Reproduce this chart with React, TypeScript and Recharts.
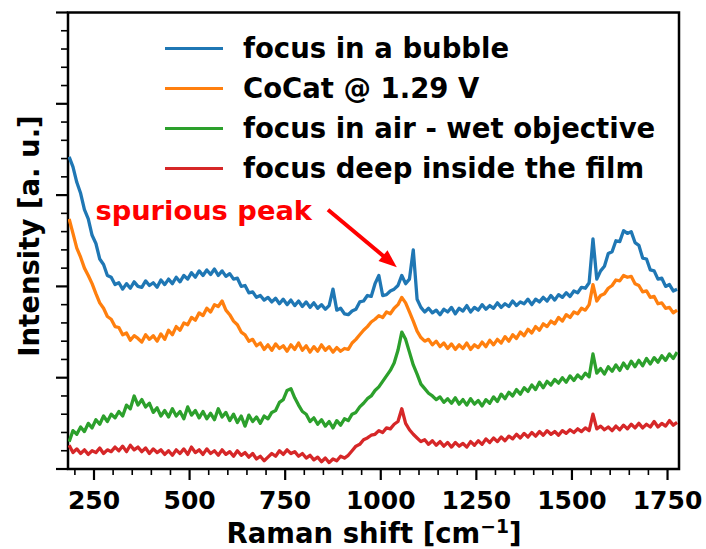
import React from 'react';
import { LineChart, Line, XAxis, YAxis, ReferenceArea, ReferenceLine, Legend } from 'recharts';

// Raman shift grid (cm^-1), shared by all four spectra
const shifts = [
  185, 195, 205, 215, 225, 235, 245, 255, 265, 275,
  285, 295, 305, 315, 325, 335, 345, 355, 365, 375,
  385, 395, 405, 415, 425, 435, 445, 455, 465, 475,
  485, 495, 505, 515, 525, 535, 545, 555, 565, 575,
  585, 595, 605, 615, 625, 635, 645, 655, 665, 675,
  685, 695, 705, 715, 725, 735, 745, 755, 765, 775,
  785, 795, 805, 815, 825, 835, 845, 855, 865, 875,
  885, 895, 905, 915, 925, 935, 945, 955, 965, 975,
  985, 995, 1005, 1015, 1025, 1035, 1045, 1055, 1065, 1075,
  1085, 1095, 1105, 1115, 1125, 1135, 1145, 1155, 1165, 1175,
  1185, 1195, 1205, 1215, 1225, 1235, 1245, 1255, 1265, 1275,
  1285, 1295, 1305, 1315, 1325, 1335, 1345, 1355, 1365, 1375,
  1385, 1395, 1405, 1415, 1425, 1435, 1445, 1455, 1465, 1475,
  1485, 1495, 1505, 1515, 1525, 1535, 1545, 1555, 1565, 1575,
  1585, 1595, 1605, 1615, 1625, 1635, 1645, 1655, 1665, 1675,
  1685, 1695, 1705, 1715, 1725, 1735, 1745, 1755, 1765, 1775,
];

const bubble = [
  3.42, 3.31, 3.14, 3.02, 2.84, 2.74, 2.56, 2.47, 2.30, 2.24,
  2.12, 2.10, 2.02, 2.04, 1.97, 2.03, 1.98, 2.05, 2.00, 1.99,
  2.06, 2.01, 2.04, 1.99, 2.07, 2.02, 2.08, 2.03, 2.10, 2.05,
  2.12, 2.08, 2.15, 2.10, 2.17, 2.12, 2.18, 2.13, 2.19, 2.12,
  2.17, 2.11, 2.14, 2.08, 2.09, 2.00, 2.01, 1.93, 1.94, 1.88,
  1.90, 1.85, 1.88, 1.83, 1.87, 1.81, 1.86, 1.80, 1.85, 1.79,
  1.84, 1.78, 1.83, 1.77, 1.82, 1.76, 1.80, 1.75, 1.79, 1.97,
  1.74, 1.76, 1.70, 1.69, 1.73, 1.75, 1.83, 1.84, 1.90, 1.89,
  2.03, 2.12, 1.90, 1.91, 1.95, 1.97, 2.01, 2.12, 2.03, 2.08,
  2.40, 1.86, 1.77, 1.72, 1.76, 1.71, 1.74, 1.69, 1.75, 1.72,
  1.77, 1.70, 1.76, 1.73, 1.79, 1.72, 1.77, 1.74, 1.80, 1.75,
  1.79, 1.76, 1.82, 1.77, 1.81, 1.78, 1.84, 1.79, 1.83, 1.81,
  1.86, 1.80, 1.86, 1.83, 1.88, 1.84, 1.90, 1.85, 1.91, 1.88,
  1.93, 1.89, 1.95, 1.93, 1.99, 1.98, 2.04, 2.52, 2.08, 2.17,
  2.22, 2.36, 2.38, 2.50, 2.49, 2.61, 2.58, 2.60, 2.48, 2.45,
  2.31, 2.30, 2.18, 2.17, 2.08, 2.09, 2.00, 2.02, 1.95, 1.97,
];

const cocat = [
  2.74, 2.58, 2.42, 2.32, 2.20, 2.12, 2.03, 1.92, 1.82, 1.76,
  1.67, 1.64, 1.56, 1.55, 1.47, 1.49, 1.41, 1.46, 1.43, 1.39,
  1.47, 1.42, 1.46, 1.40, 1.48, 1.42, 1.52, 1.47, 1.56, 1.52,
  1.60, 1.58, 1.66, 1.63, 1.71, 1.68, 1.76, 1.72, 1.80, 1.78,
  1.84, 1.74, 1.69, 1.62, 1.58, 1.50, 1.47, 1.40, 1.42, 1.35,
  1.38, 1.31, 1.36, 1.30, 1.37, 1.32, 1.35, 1.29, 1.36, 1.31,
  1.38, 1.30, 1.35, 1.28, 1.34, 1.29, 1.36, 1.30, 1.34, 1.28,
  1.33, 1.29, 1.32, 1.31, 1.38, 1.42, 1.47, 1.52, 1.56, 1.61,
  1.64, 1.68, 1.66, 1.72, 1.70, 1.76, 1.80, 1.88, 1.82, 1.72,
  1.62, 1.51, 1.44, 1.40, 1.42, 1.36, 1.40, 1.34, 1.38, 1.32,
  1.37, 1.31, 1.36, 1.32, 1.38, 1.31, 1.36, 1.33, 1.39, 1.34,
  1.41, 1.36, 1.42, 1.38, 1.45, 1.40, 1.47, 1.43, 1.50, 1.46,
  1.53, 1.49, 1.56, 1.52, 1.59, 1.56, 1.62, 1.59, 1.66, 1.62,
  1.69, 1.66, 1.72, 1.70, 1.76, 1.74, 1.80, 2.02, 1.84, 1.90,
  1.92, 1.98, 2.01, 2.07, 2.06, 2.12, 2.10, 2.11, 2.03, 2.01,
  1.94, 1.95, 1.88, 1.89, 1.81, 1.82, 1.76, 1.77, 1.71, 1.74,
];

const airWet = [
  0.30, 0.42, 0.38, 0.46, 0.41, 0.50, 0.45, 0.54, 0.49, 0.58,
  0.52, 0.60, 0.56, 0.63, 0.58, 0.70, 0.66, 0.80, 0.70, 0.76,
  0.68, 0.72, 0.62, 0.67, 0.58, 0.64, 0.57, 0.66, 0.58, 0.63,
  0.55, 0.68, 0.59, 0.64, 0.56, 0.63, 0.55, 0.61, 0.54, 0.66,
  0.57, 0.62, 0.53, 0.60, 0.51, 0.58, 0.47, 0.59, 0.52, 0.57,
  0.50, 0.58, 0.55, 0.62, 0.64, 0.73, 0.76, 0.86, 0.88, 0.78,
  0.70, 0.63, 0.60, 0.52, 0.56, 0.49, 0.54, 0.47, 0.52, 0.45,
  0.53, 0.48, 0.55, 0.53, 0.60, 0.62, 0.68, 0.72, 0.77, 0.80,
  0.86, 0.90, 0.96, 1.02, 1.08, 1.16, 1.30, 1.50, 1.42, 1.28,
  1.14, 1.04, 0.93, 0.88, 0.83, 0.80, 0.76, 0.79, 0.73, 0.77,
  0.72, 0.78, 0.71, 0.76, 0.70, 0.77, 0.71, 0.75, 0.69, 0.76,
  0.72, 0.79, 0.74, 0.82, 0.77, 0.84, 0.80, 0.87, 0.82, 0.89,
  0.85, 0.92, 0.87, 0.95, 0.89, 0.96, 0.92, 0.98, 0.94, 1.00,
  0.95, 1.02, 0.97, 1.03, 0.99, 1.05, 1.01, 1.26, 1.05, 1.10,
  1.04, 1.12, 1.07, 1.14, 1.08, 1.16, 1.10, 1.18, 1.12, 1.19,
  1.13, 1.21, 1.15, 1.22, 1.17, 1.24, 1.19, 1.26, 1.21, 1.28,
];

const deepFilm = [
  0.26, 0.18, 0.22, 0.17, 0.21, 0.16, 0.20, 0.18, 0.23, 0.17,
  0.21, 0.19, 0.24, 0.20, 0.25, 0.19, 0.26, 0.21, 0.24, 0.19,
  0.23, 0.17, 0.22, 0.18, 0.21, 0.16, 0.20, 0.15, 0.21, 0.17,
  0.22, 0.16, 0.24, 0.18, 0.21, 0.16, 0.22, 0.17, 0.20, 0.15,
  0.21, 0.16, 0.19, 0.14, 0.20, 0.15, 0.18, 0.13, 0.17, 0.11,
  0.14, 0.09, 0.13, 0.17, 0.14, 0.20, 0.16, 0.21, 0.17, 0.19,
  0.14, 0.17, 0.12, 0.15, 0.10, 0.13, 0.08, 0.12, 0.07, 0.11,
  0.09, 0.14, 0.12, 0.15, 0.20, 0.25, 0.27, 0.32, 0.34, 0.37,
  0.38, 0.42, 0.40, 0.45, 0.44, 0.49, 0.52, 0.66, 0.50, 0.43,
  0.38, 0.34, 0.30, 0.32, 0.27, 0.31, 0.26, 0.30, 0.25, 0.29,
  0.24, 0.29, 0.25, 0.28, 0.24, 0.30, 0.26, 0.31, 0.27, 0.33,
  0.29, 0.34, 0.30, 0.35, 0.31, 0.36, 0.33, 0.38, 0.34, 0.39,
  0.35, 0.40, 0.36, 0.41, 0.37, 0.42, 0.38, 0.41, 0.37, 0.42,
  0.39, 0.43, 0.40, 0.44, 0.41, 0.45, 0.42, 0.60, 0.44, 0.47,
  0.43, 0.46, 0.42, 0.47, 0.43, 0.48, 0.44, 0.49, 0.45, 0.50,
  0.45, 0.49, 0.46, 0.52, 0.46, 0.50, 0.47, 0.53, 0.48, 0.51,
];

const xMajorTicks = [250, 500, 750, 1000, 1250, 1500, 1750];
const xTicks = [
  200, 250, 300, 350, 400, 450, 500, 550, 600, 650, 700, 750, 800, 850, 900, 950,
  1000, 1050, 1100, 1150, 1200, 1250, 1300, 1350, 1400, 1450, 1500, 1550, 1600, 1650, 1700, 1750,
];
const yMajorTicks = [0, 1, 2, 3, 4, 5];
const yTicks = [
  0, 0.2, 0.4, 0.6, 0.8, 1, 1.2, 1.4, 1.6, 1.8, 2, 2.2, 2.4, 2.6, 2.8,
  3, 3.2, 3.4, 3.6, 3.8, 4, 4.2, 4.4, 4.6, 4.8, 5,
];

const series = [
  { key: 'bubble', name: 'focus in a bubble', color: '#1f77b4' },
  { key: 'cocat', name: 'CoCat @ 1.29 V', color: '#ff7f0e' },
  { key: 'airWet', name: 'focus in air - wet objective', color: '#2ca02c' },
  { key: 'deepFilm', name: 'focus deep inside the film', color: '#d62728' },
];

// where the arrow points from / to, in data units
const arrowFrom = { x: 862, y: 2.84 };
const arrowTo = { x: 1042, y: 2.21 };

const data = shifts.map((shift, i) => ({
  shift,
  bubble: bubble[i],
  cocat: cocat[i],
  airWet: airWet[i],
  deepFilm: deepFilm[i],
}));

const FONT = '"DejaVu Sans", Verdana, sans-serif';

function XTick(props: any) {
  const { x, y, payload } = props;
  const major = xMajorTicks.includes(payload.value);
  return (
    <g>
      <line x1={x} y1={y} x2={x} y2={y + (major ? 11 : 6)} stroke="#000" strokeWidth={major ? 2.2 : 1.6} />
      {major && (
        <text x={x} y={y + 40} textAnchor="middle" fontFamily={FONT} fontWeight="bold" fontSize={25} fill="#000">
          {payload.value}
        </text>
      )}
    </g>
  );
}

function YTick(props: any) {
  const { x, y, payload } = props;
  const major = yMajorTicks.includes(payload.value);
  return <line x1={x} y1={y} x2={x - (major ? 12 : 7)} y2={y} stroke="#000" strokeWidth={major ? 2.2 : 1.6} />;
}

function SpuriousArrow(props: any) {
  const { x1, y1, x2, y2 } = props;
  const dx = x2 - x1;
  const dy = y2 - y1;
  const len = Math.sqrt(dx * dx + dy * dy);
  const ux = dx / len;
  const uy = dy / len;
  const headLen = 18;
  const headHalf = 7;
  const bx = x2 - ux * headLen;
  const by = y2 - uy * headLen;
  const head = [
    `${x2},${y2}`,
    `${bx - uy * headHalf},${by + ux * headHalf}`,
    `${bx + uy * headHalf},${by - ux * headHalf}`,
  ].join(' ');
  return (
    <g>
      <line x1={x1} y1={y1} x2={bx + ux * 2} y2={by + uy * 2} stroke="#f00" strokeWidth={4} />
      <polygon points={head} fill="#f00" />
      <text x={x1 - 16} y={y1 + 10} textAnchor="end" fontFamily={FONT} fontWeight="bold" fontSize={27.3} fill="#f00">
        spurious peak
      </text>
    </g>
  );
}

function LegendBox() {
  return (
    <div style={{ fontFamily: FONT, fontWeight: 'bold', fontSize: 27.5 }}>
      {series.map((s) => (
        <div key={s.key} style={{ display: 'flex', alignItems: 'center', height: 40 }}>
          <div style={{ width: 58, height: 3, background: s.color, marginLeft: 5 }} />
          <span style={{ marginLeft: 20, lineHeight: '40px', whiteSpace: 'nowrap' }}>{s.name}</span>
        </div>
      ))}
    </div>
  );
}

export default function App() {
  return (
    <div style={{ position: 'absolute', left: 0, top: 0, width: 706, height: 549, background: '#fff' }}>
      <LineChart width={706} height={549} data={data} margin={{ top: 12.5, right: 27, bottom: 79, left: 67 }}>
        <XAxis
          type="number"
          dataKey="shift"
          domain={[182, 1780]}
          ticks={xTicks}
          interval={0}
          allowDataOverflow
          height={1}
          axisLine={false}
          tickLine={false}
          tickSize={0}
          tickMargin={0}
          tick={<XTick />}
        />
        <YAxis
          type="number"
          domain={[0, 5]}
          ticks={yTicks}
          interval={0}
          allowDataOverflow
          width={1}
          axisLine={false}
          tickLine={false}
          tickSize={0}
          tickMargin={0}
          tick={<YTick />}
        />
        {series.map((s) => (
          <Line
            key={s.key}
            type="linear"
            dataKey={s.key}
            name={s.name}
            stroke={s.color}
            strokeWidth={3.3}
            strokeLinejoin="round"
            dot={false}
            activeDot={false}
            isAnimationActive={false}
          />
        ))}
        <ReferenceArea x1={182} x2={1780} y1={0} y2={5} fill="none" stroke="#000" strokeWidth={2.5} ifOverflow="visible" />
        <ReferenceLine segment={[arrowFrom, arrowTo]} ifOverflow="visible" shape={SpuriousArrow} />
        <Legend
          layout="vertical"
          align="center"
          verticalAlign="middle"
          wrapperStyle={{ left: 160, top: 28, width: 540 }}
          content={() => <LegendBox />}
        />
      </LineChart>
      <div
        style={{
          position: 'absolute',
          left: 30,
          top: 236,
          transform: 'translate(-50%, -50%) rotate(-90deg)',
          fontFamily: FONT,
          fontWeight: 'bold',
          fontSize: 27.5,
          whiteSpace: 'nowrap',
          lineHeight: 1,
        }}
      >
        Intensity [a. u.]
      </div>
      <div
        style={{
          position: 'absolute',
          left: 374,
          top: 533,
          transform: 'translate(-50%, -50%)',
          fontFamily: FONT,
          fontWeight: 'bold',
          fontSize: 27.5,
          whiteSpace: 'nowrap',
          lineHeight: 1,
        }}
      >
        Raman shift [cm<span style={{ fontSize: '0.68em', verticalAlign: '0.55em' }}>−1</span>]
      </div>
    </div>
  );
}
